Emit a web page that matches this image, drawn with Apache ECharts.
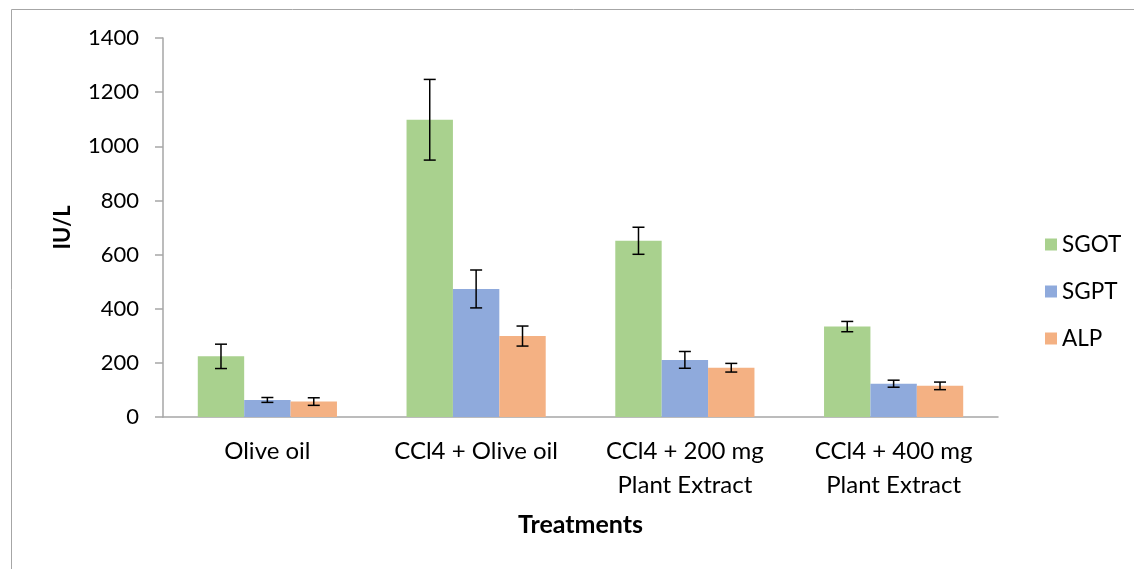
<!DOCTYPE html>
<html>
<head>
<meta charset="utf-8">
<script src="https://cdn.jsdelivr.net/npm/echarts@6/dist/echarts.min.js"></script>
<style>
html,body{margin:0;padding:0;background:#fff;}
#chart{width:1134px;height:569px;}
</style>
</head>
<body>
<div id="chart"></div>
<script>
const categories = ['Olive oil', 'CCl4 + Olive oil', 'CCl4 + 200 mg\nPlant Extract', 'CCl4 + 400 mg\nPlant Extract'];
const seriesNames = ['SGOT', 'SGPT', 'ALP'];
const sgot = [224, 1098, 651, 334];
const sgotErr = [45, 149, 50, 19];
const sgpt = [63, 473, 211, 123];
const sgptErr = [9, 70, 31, 13];
const alp = [57, 299, 182, 115];
const alpErr = [14, 37, 16, 14];
const yTicks = [0, 200, 400, 600, 800, 1000, 1200, 1400];

const colors = ['#a9d18e', '#8faadc', '#f4b183'];
const values = [sgot, sgpt, alp];
const errors = [sgotErr, sgptErr, alpErr];
const FONT = 'Lato';
const catGapRatio = 1 / 3;

function errSeries(k) {
  return {
    type: 'custom',
    name: seriesNames[k] + ' err',
    z: 10,
    silent: true,
    data: values[k].map((v, i) => [i, v, errors[k][i]]),
    renderItem: function (params, api) {
      const i = api.value(0), v = api.value(1), e = api.value(2);
      const catW = api.size([1, 0])[0];
      const barW = catW * (1 - catGapRatio) / 3;
      const c = api.coord([i, v]);
      const x = c[0] + (k - 1) * barW;
      const top = api.coord([i, v + e])[1];
      const bot = api.coord([i, v - e])[1];
      const cap = 6;
      const st = { stroke: '#000', lineWidth: 1.5 };
      return {
        type: 'group',
        children: [
          { type: 'line', shape: { x1: x, y1: top, x2: x, y2: bot }, style: st },
          { type: 'line', shape: { x1: x - cap, y1: top, x2: x + cap, y2: top }, style: st },
          { type: 'line', shape: { x1: x - cap, y1: bot, x2: x + cap, y2: bot }, style: st }
        ]
      };
    }
  };
}

const chart = echarts.init(document.getElementById('chart'), null, { renderer: 'canvas' });
chart.setOption({
  animation: false,
  backgroundColor: '#fff',
  textStyle: { fontFamily: FONT },
  graphic: [{
    type: 'rect',
    shape: { x: 11.5, y: 9.5, width: 1300, height: 800 },
    style: { fill: 'none', stroke: '#a6a6a6', lineWidth: 1 },
    silent: true,
    z: -1
  }],
  grid: { left: 163, right: 136, top: 38, bottom: 152 },
  legend: {
    orient: 'vertical',
    left: 1040,
    top: 228,
    itemWidth: 12,
    itemHeight: 12,
    itemGap: 24,
    icon: 'rect',
    data: seriesNames,
    textStyle: { fontFamily: FONT, fontSize: 22.5, color: '#000', padding: [0, 0, 0, 0] }
  },
  xAxis: {
    type: 'category',
    data: categories,
    name: 'Treatments',
    nameLocation: 'middle',
    nameGap: 95,
    nameTextStyle: { fontFamily: FONT, fontSize: 25, fontWeight: 'bold', color: '#000' },
    axisLine: { lineStyle: { color: '#a6a6a6', width: 1.5 } },
    axisTick: { show: false },
    axisLabel: { fontFamily: FONT, fontSize: 24, color: '#000', margin: 17, lineHeight: 34, interval: 0 }
  },
  yAxis: {
    type: 'value',
    min: 0,
    max: 1400,
    interval: 200,
    name: 'IU/L',
    nameLocation: 'middle',
    nameGap: 89,
    nameRotate: 90,
    nameTextStyle: { fontFamily: FONT, fontSize: 22, fontWeight: 'bold', color: '#000' },
    axisLine: { show: true, lineStyle: { color: '#a6a6a6', width: 1.5 } },
    axisTick: { show: true, length: 8, lineStyle: { color: '#a6a6a6', width: 1.5 } },
    splitLine: { show: false },
    axisLabel: {
      fontFamily: FONT, fontSize: 22, color: '#000', margin: 24,
      formatter: v => (yTicks.indexOf(v) >= 0 ? String(v) : '')
    }
  },
  series: [
    ...seriesNames.map((n, k) => ({
      type: 'bar',
      name: n,
      data: values[k],
      barGap: '0%',
      barCategoryGap: (catGapRatio * 100).toFixed(2) + '%',
      itemStyle: { color: colors[k] }
    })),
    errSeries(0), errSeries(1), errSeries(2)
  ]
});
</script>
</body>
</html>
